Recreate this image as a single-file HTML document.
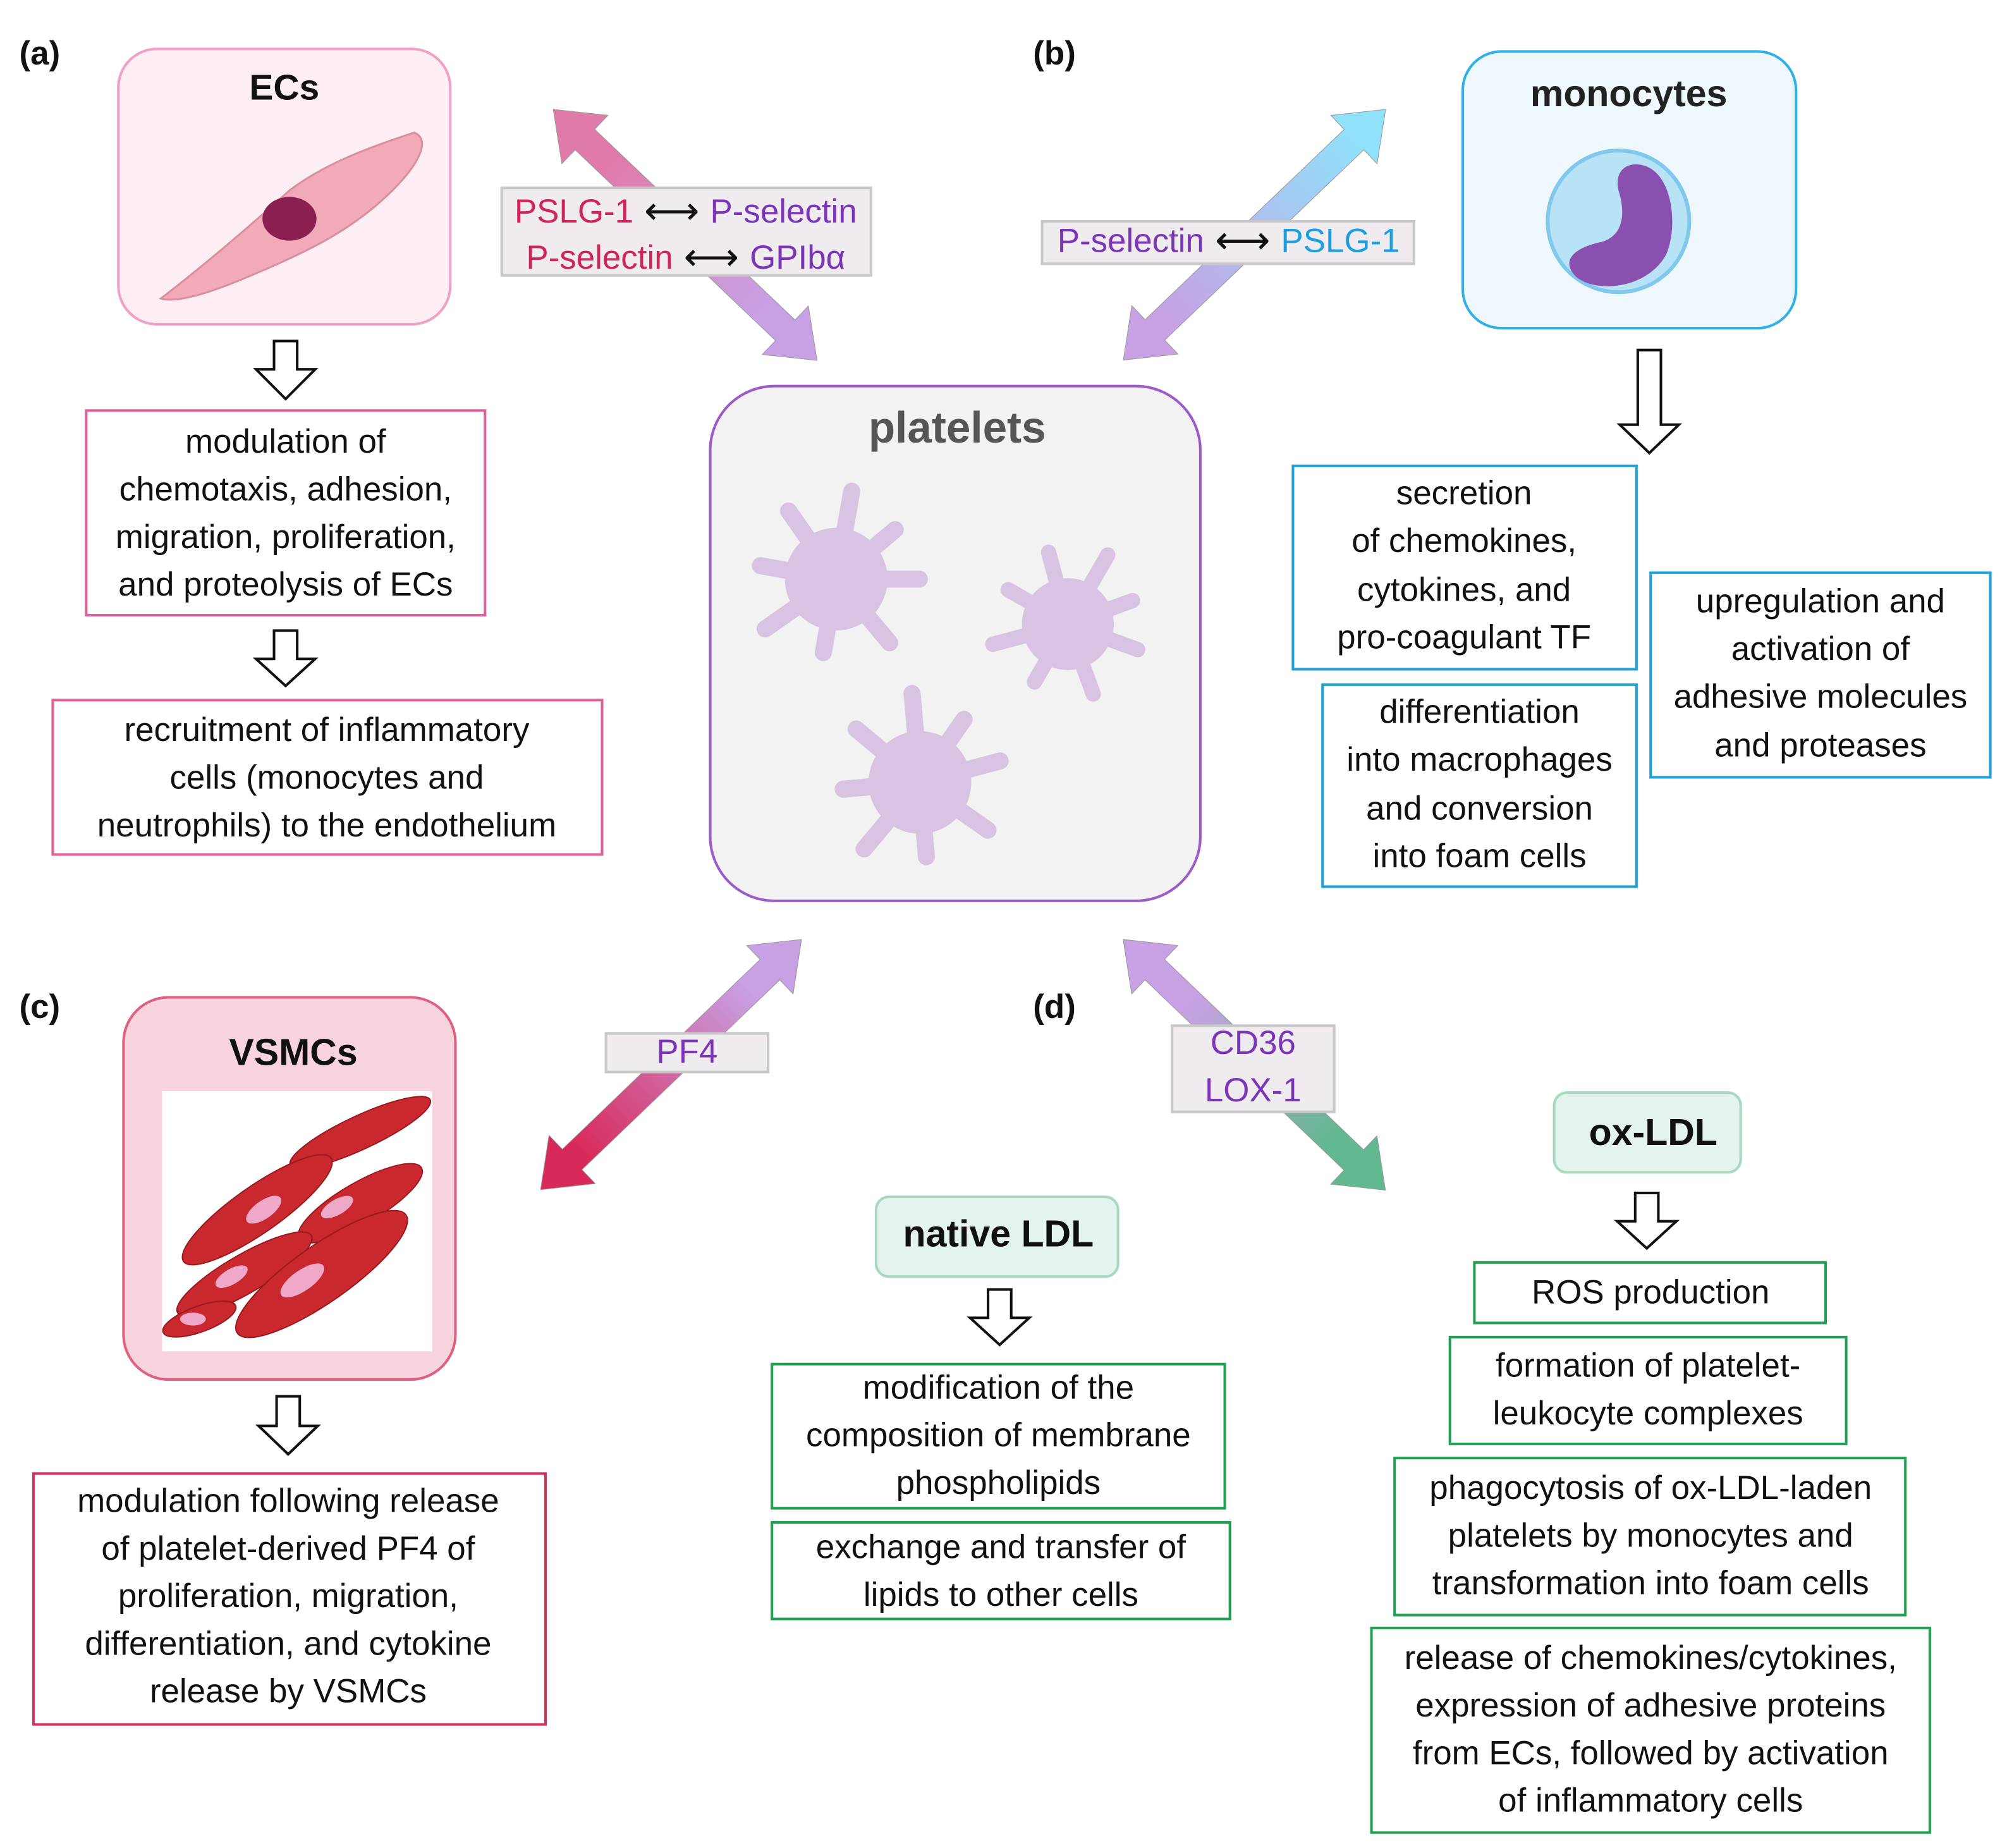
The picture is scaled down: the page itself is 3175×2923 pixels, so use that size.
<!DOCTYPE html>
<html><head><meta charset="utf-8">
<style>
html,body{margin:0;padding:0;background:#fff;}
svg{display:block;}
text{font-family:"Liberation Sans",sans-serif;}
.t{font-size:26px;fill:#111;text-anchor:middle;dominant-baseline:middle;}
.h{font-weight:bold;text-anchor:middle;dominant-baseline:middle;}
.lab{font-size:26px;font-weight:bold;fill:#111;}
.ha{fill:#fff;stroke:#111;stroke-width:2;}
.pl{fill:#d8c4e2;}
.ar{font-size:30px;fill:#111;}
</style></head>
<body>
<svg width="3175" height="2923" viewBox="0 0 1560 1436" preserveAspectRatio="none" xmlns="http://www.w3.org/2000/svg">
<defs>
<linearGradient id="g1" x1="0" y1="0" x2="1" y2="0"><stop offset="0.2" stop-color="#e07aa8"/><stop offset="0.8" stop-color="#c8a0e4"/></linearGradient>
<linearGradient id="g2" x1="0" y1="0" x2="1" y2="0"><stop offset="0.1" stop-color="#90e2fa"/><stop offset="0.85" stop-color="#c8a0e4"/></linearGradient>
<linearGradient id="g3" x1="0" y1="0" x2="1" y2="0"><stop offset="0.2" stop-color="#c8a0e4"/><stop offset="0.85" stop-color="#d82a5a"/></linearGradient>
<linearGradient id="g4" x1="0" y1="0" x2="1" y2="0"><stop offset="0.25" stop-color="#c8a0e4"/><stop offset="0.8" stop-color="#62b890"/></linearGradient>
<g id="spk">
<circle cx="0" cy="0" r="42"/>
<rect x="20" y="-7" width="55" height="14" rx="7"/>
<rect x="20" y="-7" width="55" height="14" rx="7" transform="rotate(50)"/>
<rect x="20" y="-7" width="48" height="14" rx="7" transform="rotate(100)"/>
<rect x="20" y="-7" width="58" height="14" rx="7" transform="rotate(145)"/>
<rect x="20" y="-7" width="50" height="14" rx="7" transform="rotate(190)"/>
<rect x="20" y="-7" width="55" height="14" rx="7" transform="rotate(235)"/>
<rect x="20" y="-7" width="60" height="14" rx="7" transform="rotate(280)"/>
<rect x="20" y="-7" width="50" height="14" rx="7" transform="rotate(320)"/>
</g>
</defs>

<text class="lab" x="15" y="50">(a)</text>
<text class="lab" x="803" y="50">(b)</text>
<text class="lab" x="15" y="791">(c)</text>
<text class="lab" x="803" y="791">(d)</text>

<rect x="92" y="38" width="258" height="214" rx="30" fill="#fdeef4" stroke="#f0a0c2" stroke-width="2"/>
<text class="h" x="221" y="70" font-size="28" fill="#111">ECs</text>
<path d="M125,232 C160,205 195,175 225,148 C255,125 295,112 322,103 C334,108 328,125 305,148 C275,178 240,195 200,212 C170,225 140,236 125,232Z" fill="#f2aabb" stroke="#d8909e" stroke-width="1.5"/>
<ellipse cx="225" cy="170" rx="21" ry="17" fill="#8a2050"/>
<polygon class="ha" points="213,265 231,265 231,287 245,287 222,310 199,287 213,287"/>
<rect x="67" y="319" width="310" height="159" fill="#fff" stroke="#e0609a" stroke-width="2"/>
<text class="t" x="222" y="345">modulation of</text>
<text class="t" x="222" y="382">chemotaxis, adhesion,</text>
<text class="t" x="222" y="419">migration, proliferation,</text>
<text class="t" x="222" y="456">and proteolysis of ECs</text>
<polygon class="ha" points="213,490 231,490 231,512 245,512 222,533 199,512 213,512"/>
<rect x="41" y="544" width="427" height="120" fill="#fff" stroke="#e0609a" stroke-width="2"/>
<text class="t" x="254" y="569">recruitment of inflammatory</text>
<text class="t" x="254" y="606">cells (monocytes and</text>
<text class="t" x="254" y="643">neutrophils) to the endothelium</text>

<g transform="translate(430,85) rotate(43.57)"><polygon fill="url(#g1)" stroke="#999" stroke-width="0.5" points="0,0 34,-26 34,-11 249,-11 249,-26 283,0 249,26 249,11 34,11 34,26"/></g>
<g transform="translate(1077,85) rotate(136.3)"><polygon fill="url(#g2)" stroke="#999" stroke-width="0.5" points="0,0 34,-26 34,-11 248,-11 248,-26 282,0 248,26 248,11 34,11 34,26"/></g>
<g transform="translate(623,730) rotate(136.2)"><polygon fill="url(#g3)" stroke="#999" stroke-width="0.5" points="0,0 34,-26 34,-11 247,-11 247,-26 281,0 247,26 247,11 34,11 34,26"/></g>
<g transform="translate(873,730) rotate(43.7)"><polygon fill="url(#g4)" stroke="#999" stroke-width="0.5" points="0,0 34,-26 34,-11 248,-11 248,-26 282,0 248,26 248,11 34,11 34,26"/></g>

<rect x="390" y="146" width="287" height="68" fill="#efebef" stroke="#c8c8c8" stroke-width="2"/>
<text x="533" y="166" font-size="26" text-anchor="middle" dominant-baseline="middle"><tspan fill="#d0245a">PSLG-1</tspan><tspan class="ar"> ⟷ </tspan><tspan fill="#7a35b8">P-selectin</tspan></text>
<text x="533" y="202" font-size="26" text-anchor="middle" dominant-baseline="middle"><tspan fill="#d0245a">P-selectin</tspan><tspan class="ar"> ⟷ </tspan><tspan fill="#7a35b8">GPIbα</tspan></text>
<rect x="810" y="172" width="289" height="33" fill="#efebef" stroke="#c8c8c8" stroke-width="2"/>
<text x="955" y="189" font-size="26" text-anchor="middle" dominant-baseline="middle"><tspan fill="#7a35b8">P-selectin</tspan><tspan class="ar"> ⟷ </tspan><tspan fill="#1aa0e0">PSLG-1</tspan></text>
<rect x="471" y="803" width="126" height="30" fill="#efebef" stroke="#c8c8c8" stroke-width="2"/>
<text x="534" y="819" font-size="26" fill="#7a35b8" text-anchor="middle" dominant-baseline="middle">PF4</text>
<rect x="911" y="797" width="126" height="67" fill="#efebef" stroke="#c8c8c8" stroke-width="2"/>
<text x="974" y="812" font-size="26" fill="#7a35b8" text-anchor="middle" dominant-baseline="middle">CD36</text>
<text x="974" y="849" font-size="26" fill="#7a35b8" text-anchor="middle" dominant-baseline="middle">LOX-1</text>

<rect x="552" y="300" width="381" height="400" rx="50" fill="#f2f2f2" stroke="#9a5cc8" stroke-width="2"/>
<text class="h" x="744" y="335" font-size="34" fill="#555">platelets</text>
<use href="#spk" class="pl" transform="translate(650,450) scale(0.95)"/>
<use href="#spk" class="pl" transform="translate(830,485) rotate(20) scale(0.85)"/>
<use href="#spk" class="pl" transform="translate(715,608) rotate(-15) scale(0.95)"/>

<rect x="1137" y="40" width="259" height="215" rx="30" fill="#eef7fc" stroke="#30b0e8" stroke-width="2"/>
<text class="h" x="1266" y="75" font-size="29" fill="#222">monocytes</text>
<circle cx="1258" cy="172" r="55" fill="#b8e2f6" stroke="#80c8ec" stroke-width="3"/>
<path d="M1275,128 C1300,132 1305,175 1295,198 C1280,225 1240,228 1225,215 C1212,202 1225,192 1245,188 C1265,182 1262,160 1258,148 C1255,135 1262,126 1275,128Z" fill="#8a50b0"/>
<polygon class="ha" points="1273,272 1291,272 1291,330 1305,330 1282,352 1259,330 1273,330"/>
<rect x="1005" y="362" width="267" height="158" fill="#fff" stroke="#1ea0d8" stroke-width="2"/>
<text class="t" x="1138" y="385">secretion</text>
<text class="t" x="1138" y="422">of chemokines,</text>
<text class="t" x="1138" y="460">cytokines, and</text>
<text class="t" x="1138" y="497">pro-coagulant TF</text>
<rect x="1283" y="445" width="264" height="159" fill="#fff" stroke="#1ea0d8" stroke-width="2"/>
<text class="t" x="1415" y="469">upregulation and</text>
<text class="t" x="1415" y="506">activation of</text>
<text class="t" x="1415" y="543">adhesive molecules</text>
<text class="t" x="1415" y="581">and proteases</text>
<rect x="1028" y="532" width="244" height="157" fill="#fff" stroke="#1ea0d8" stroke-width="2"/>
<text class="t" x="1150" y="555">differentiation</text>
<text class="t" x="1150" y="592">into macrophages</text>
<text class="t" x="1150" y="630">and conversion</text>
<text class="t" x="1150" y="667">into foam cells</text>

<rect x="96" y="775" width="258" height="297" rx="35" fill="#f7d3dd" stroke="#e06080" stroke-width="2"/>
<text class="h" x="228" y="820" font-size="29" fill="#111">VSMCs</text>
<rect x="126" y="848" width="210" height="202" fill="#fff"/>
<g fill="#c8282e" stroke="#9a1a20" stroke-width="1">
<ellipse cx="280" cy="880" rx="60" ry="13" transform="rotate(-25 280 880)"/>
<ellipse cx="200" cy="940" rx="70" ry="18" transform="rotate(-35 200 940)"/>
<ellipse cx="280" cy="935" rx="55" ry="16" transform="rotate(-30 280 935)"/>
<ellipse cx="190" cy="990" rx="60" ry="15" transform="rotate(-30 190 990)"/>
<ellipse cx="250" cy="990" rx="80" ry="22" transform="rotate(-35 250 990)"/>
<ellipse cx="155" cy="1025" rx="30" ry="10" transform="rotate(-20 155 1025)"/>
</g>
<g fill="#f0a8c8"><ellipse cx="205" cy="940" rx="16" ry="7" transform="rotate(-35 205 940)"/><ellipse cx="262" cy="938" rx="14" ry="6" transform="rotate(-30 262 938)"/><ellipse cx="235" cy="995" rx="20" ry="8" transform="rotate(-35 235 995)"/><ellipse cx="180" cy="992" rx="14" ry="6" transform="rotate(-30 180 992)"/><ellipse cx="150" cy="1025" rx="10" ry="5"/></g>
<polygon class="ha" points="215,1085 233,1085 233,1108 247,1108 224,1130 201,1108 215,1108"/>
<rect x="26" y="1145" width="398" height="195" fill="#fff" stroke="#d0305a" stroke-width="2"/>
<text class="t" x="224" y="1168">modulation following release</text>
<text class="t" x="224" y="1205">of platelet-derived PF4 of</text>
<text class="t" x="224" y="1242">proliferation, migration,</text>
<text class="t" x="224" y="1279">differentiation, and cytokine</text>
<text class="t" x="224" y="1316">release by VSMCs</text>

<rect x="681" y="930" width="188" height="62" rx="10" fill="#e4f4ec" stroke="#a8d8c0" stroke-width="2"/>
<text class="h" x="776" y="961" font-size="29" fill="#111">native LDL</text>
<polygon class="ha" points="768,1002 786,1002 786,1024 800,1024 777,1045 754,1024 768,1024"/>
<rect x="600" y="1060" width="352" height="112" fill="#fff" stroke="#20a050" stroke-width="2"/>
<text class="t" x="776" y="1080">modification of the</text>
<text class="t" x="776" y="1117">composition of membrane</text>
<text class="t" x="776" y="1154">phospholipids</text>
<rect x="600" y="1183" width="356" height="75" fill="#fff" stroke="#20a050" stroke-width="2"/>
<text class="t" x="778" y="1204">exchange and transfer of</text>
<text class="t" x="778" y="1241">lipids to other cells</text>

<rect x="1208" y="849" width="145" height="62" rx="10" fill="#e4f4ec" stroke="#a8d8c0" stroke-width="2"/>
<text class="h" x="1285" y="882" font-size="29" fill="#111">ox-LDL</text>
<polygon class="ha" points="1271,927 1289,927 1289,949 1303,949 1280,970 1257,949 1271,949"/>
<rect x="1146" y="981" width="273" height="47" fill="#fff" stroke="#20a050" stroke-width="2"/>
<text class="t" x="1283" y="1006">ROS production</text>
<rect x="1127" y="1039" width="308" height="83" fill="#fff" stroke="#20a050" stroke-width="2"/>
<text class="t" x="1281" y="1063">formation of platelet-</text>
<text class="t" x="1281" y="1100">leukocyte complexes</text>
<rect x="1084" y="1133" width="397" height="122" fill="#fff" stroke="#20a050" stroke-width="2"/>
<text class="t" x="1283" y="1158">phagocytosis of ox-LDL-laden</text>
<text class="t" x="1283" y="1195">platelets by monocytes and</text>
<text class="t" x="1283" y="1232">transformation into foam cells</text>
<rect x="1066" y="1265" width="434" height="159" fill="#fff" stroke="#20a050" stroke-width="2"/>
<text class="t" x="1283" y="1290">release of chemokines/cytokines,</text>
<text class="t" x="1283" y="1327">expression of adhesive proteins</text>
<text class="t" x="1283" y="1364">from ECs, followed by activation</text>
<text class="t" x="1283" y="1401">of inflammatory cells</text>
</svg>
</body></html>
